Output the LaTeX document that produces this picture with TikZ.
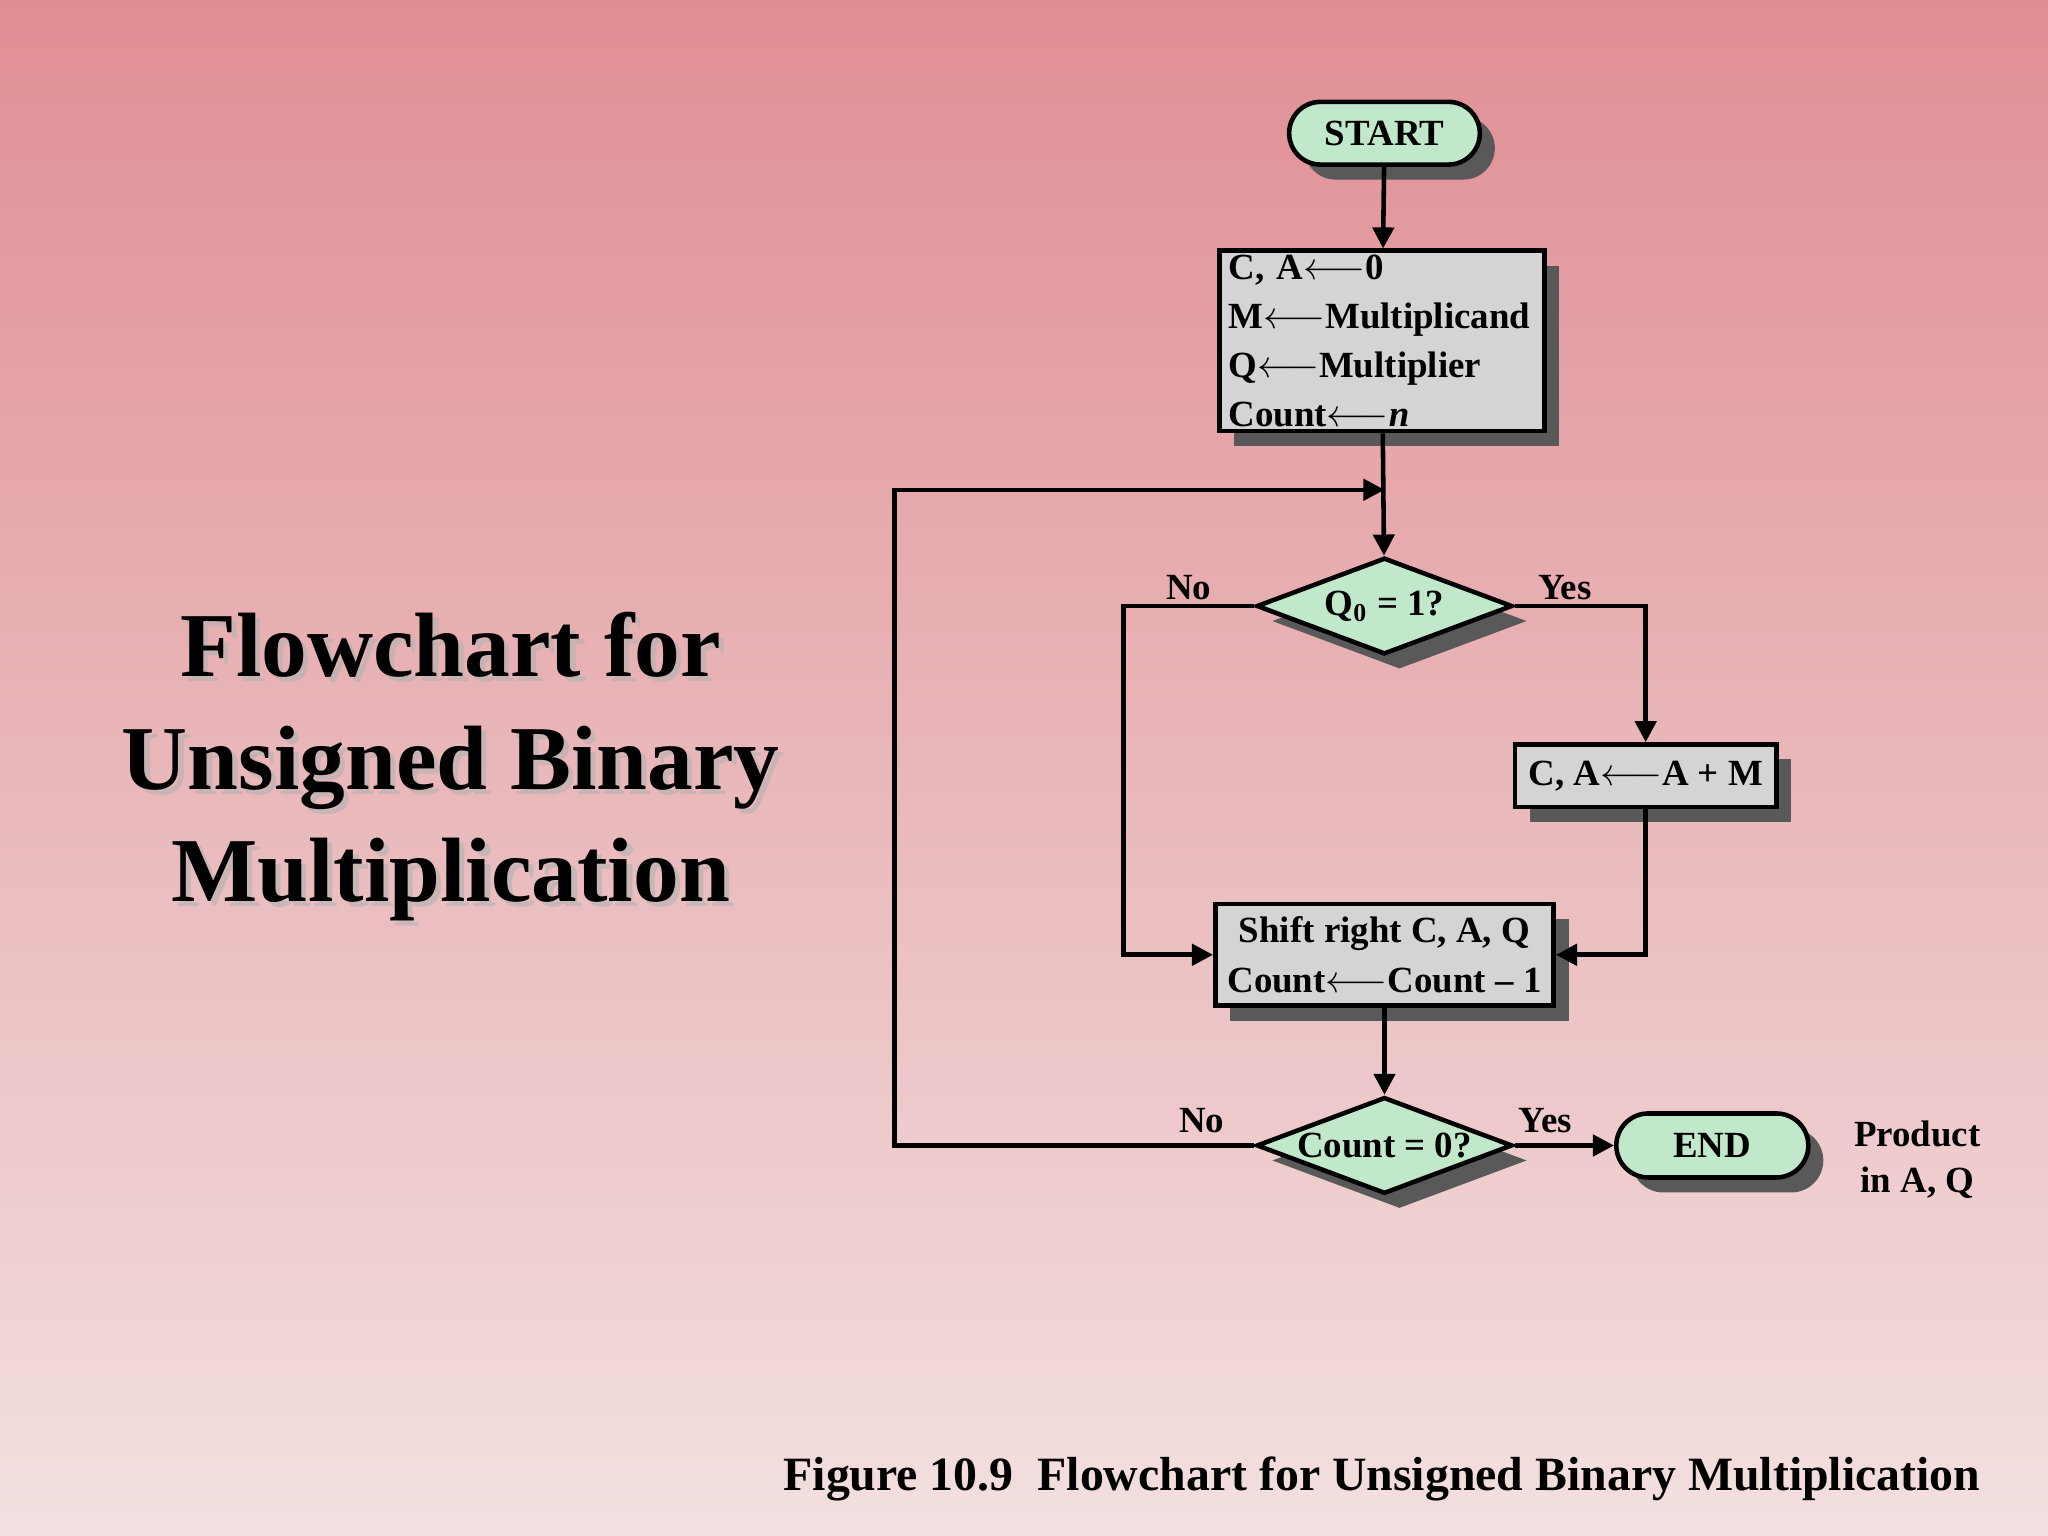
\documentclass[tikz,border=0pt]{standalone}
\usepackage{fontspec}
\setmainfont{Liberation Serif}
\usetikzlibrary{shapes.geometric,shapes.misc,shadows,arrows.meta}
\definecolor{mint}{HTML}{C2E8CC}
\definecolor{boxg}{HTML}{D4D4D6}
\begin{document}
\begin{tikzpicture}[x=0.01306cm,y=-0.01306cm,
  sh/.style={drop shadow={shadow xshift=0.15cm,shadow yshift=-0.15cm,fill=black!65,opacity=1}},
  term/.style={rounded rectangle,draw,line width=1.3pt,fill=mint,sh,font=\bfseries\fontsize{10.5}{13}\selectfont,inner sep=0pt},
  proc/.style={rectangle,draw,line width=1.3pt,fill=boxg,sh,font=\bfseries\fontsize{10.5}{14}\selectfont,align=left,inner sep=0pt},
  dec/.style={diamond,draw,line width=1.3pt,fill=mint,sh,inner sep=0pt,minimum width=196*0.01306cm,minimum height=74*0.01306cm},
  dlab/.style={font=\bfseries\fontsize{10.5}{13}\selectfont},
  ar/.style={draw,line width=1.3pt,-{Triangle[length=6pt,width=6pt]}},
  lab/.style={font=\bfseries\fontsize{10.5}{13}\selectfont}]
\useasboundingbox (0,0) rectangle (1568,1176);
\shade[top color={rgb,255:red,224;green,142;blue,148},middle color={rgb,255:red,233;green,184;blue,192},bottom color={rgb,255:red,243;green,224;blue,224}] (0,0) rectangle (1568,1176);
\node[term,minimum width=146*0.01306cm,minimum height=48*0.01306cm] (start) at (1060,102) {START};
\node[proc,minimum width=249*0.01306cm,minimum height=138*0.01306cm,text width=235*0.01306cm] (init) at (1058,261) {C, A$\longleftarrow$0\\M$\longleftarrow$Multiplicand\\Q$\longleftarrow$Multiplier\\Count$\longleftarrow$\textit{n}};
\node[dec] (q0) at (1060,464) {};
\node[dlab] (q0t) at (q0) {Q\textsubscript{0} = 1?};
\node[proc,minimum width=200*0.01306cm,minimum height=48*0.01306cm,align=center] (add) at (1260,594) {C, A$\longleftarrow$A + M};
\node[proc,minimum width=259*0.01306cm,minimum height=78*0.01306cm,align=center] (shift) at (1060,731) {Shift right C, A, Q\\Count$\longleftarrow$Count -- 1};
\node[dec] (cnt) at (1060,877) {};
\node[dlab] (cntt) at (cnt) {Count = 0?};
\node[term,minimum width=147*0.01306cm,minimum height=49*0.01306cm] (end) at (1311,877) {END};
\node[lab,align=center] (prod) at (1468,888) {Product\\in A, Q};
\coordinate (j) at (1060,375);
\path[ar] (start) -- (init);
\path[ar] (init) -- (q0);
\path[ar] (cnt.west) -- (685,877) |- (j);
\path[ar] (q0.west) -| (860,600) |- (shift.west);
\path[ar] (q0.east) -| (add.north);
\path[ar] (add.south) |- (shift.east);
\path[ar] (shift) -- (cnt);
\path[ar] (cnt.east) -- (end.west);
\node[lab] (n1) at (910,450) {No};
\node[lab] (y1) at (1198,450) {Yes};
\node[lab] (n2) at (920,858) {No};
\node[lab] (y2) at (1183,858) {Yes};
\node[font=\bfseries\fontsize{26}{32}\selectfont,align=center,text=black!30,opacity=0.6] at (349,591) {Flowchart for\\Unsigned Binary\\Multiplication};
\node[font=\bfseries\fontsize{26}{32}\selectfont,align=center] (title) at (345,587) {Flowchart for\\Unsigned Binary\\Multiplication};
\node[font=\bfseries\fontsize{13.6}{16}\selectfont] (cap) at (1058,1132) {Figure 10.9\ \ Flowchart for Unsigned Binary Multiplication};
\end{tikzpicture}
\end{document}
